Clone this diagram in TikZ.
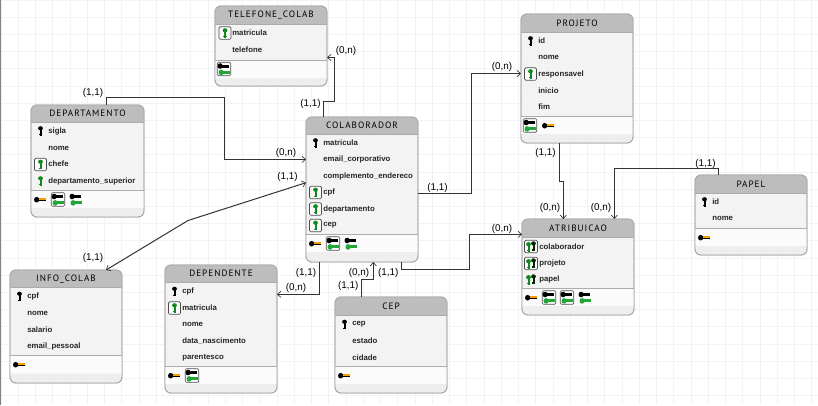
\documentclass[tikz,border=0pt]{standalone}
\usepackage{fontspec}
\setmainfont{Liberation Sans}
\newfontfamily\titlefont[LetterSpace=11]{PT Sans}
\usetikzlibrary{calc,arrows.meta}
\definecolor{gridc}{HTML}{F1F3F8}
\definecolor{hdrc}{HTML}{BDBDBD}
\definecolor{bodyc}{HTML}{F3F3F3}
\definecolor{footc}{HTML}{FBFBFB}
\definecolor{stripc}{HTML}{EEEEEE}
\definecolor{edgec}{HTML}{ABABAB}
\definecolor{linec}{HTML}{333333}
\definecolor{keygreen}{HTML}{0F8A20}
\definecolor{lightgreen}{HTML}{22A63A}
\definecolor{keyorange}{HTML}{F5A000}
\tikzset{
  entbox/.style={draw=edgec,line width=0.7pt,rounded corners=4.5pt,fill=bodyc,inner sep=0pt,outer sep=0pt},
  enttitle/.style={inner sep=0pt,text=black,font=\titlefont\fontsize{6.9pt}{8pt}\selectfont},
  attrtext/.style={inner sep=0pt,anchor=west,text=black!85,font=\bfseries\fontsize{5.85pt}{7pt}\selectfont},
  card/.style={inner sep=0pt,text=black,font=\fontsize{7.4pt}{9pt}\selectfont},
  conn/.style={draw=linec,line width=0.75pt},
  tip/.style={-{Straight Barb[length=2.6pt,width=4.6pt,line width=0.5pt]}},
  tips/.style={{Straight Barb[length=2.6pt,width=4.6pt,line width=0.5pt]}-{Straight Barb[length=2.6pt,width=4.6pt,line width=0.5pt]}},
  iconframe/.style={draw=black!70,line width=0.5pt,rounded corners=1pt,fill=white}
}
% ---- key glyphs, coordinates in pixels around the icon centre
\newcommand{\vkey}[3]{\fill[#3] (#1,-2.7+#2) ellipse (2.4 and 2.1);
  \fill[#3] (#1-1,-3+#2) rectangle (#1+1,4.8+#2);
  \fill[#3] (#1-1.6,3.2+#2) rectangle (#1+1.6,4.4+#2);}
\newcommand{\hkey}[3]{\fill[#3] (-3.4+#1,#2) ellipse (2.6 and 2.8);
  \fill[#3] (-3.4+#1,#2-1.5) rectangle (5.8+#1,#2+1.5);}
\newcommand{\icp}[2]{\begin{scope}[shift={(#1,#2)}]\vkey{0}{0}{black}\end{scope}}
\newcommand{\icf}[2]{\begin{scope}[shift={(#1,#2)}]\vkey{0}{0}{keygreen}\end{scope}}
\newcommand{\icF}[2]{\begin{scope}[shift={(#1,#2)}]
  \draw[iconframe,fill=footc] (-6,-6.3) rectangle (6,6.3);\vkey{0}{0}{keygreen}\end{scope}}
\newcommand{\dkey}{\vkey{-2.5}{0.4}{keygreen}\vkey{2.5}{-0.4}{black!85!green}}
\newcommand{\icd}[2]{\begin{scope}[shift={(#1,#2)}]\dkey\end{scope}}
\newcommand{\icD}[2]{\begin{scope}[shift={(#1,#2)}]
  \draw[iconframe,fill=footc] (-6.5,-6.3) rectangle (6.5,6.3);\dkey\end{scope}}
% ---- footer icons
\newcommand{\ftpk}[2]{\begin{scope}[shift={(#1,#2)}]\hkey{0}{0.2}{black}
  \fill[keyorange] (-1,-1.6) rectangle (5.8,0.1);\end{scope}}
\newcommand{\ftfk}[2]{\begin{scope}[shift={(#1,#2)}]\hkey{-0.5}{-3}{black}\hkey{0.5}{3.4}{lightgreen}\end{scope}}
\newcommand{\ftfr}[2]{\begin{scope}[shift={(#1,#2)}]
  \draw[iconframe] (-6.8,-6.8) rectangle (6.8,6.8);\hkey{-0.5}{-3}{black}\hkey{0.5}{3.4}{lightgreen}\end{scope}}
\newcommand{\ftrow}[3]{\foreach \kind [count=\n from 0] in {#3}{%
  \csname ft\kind\endcsname{#1+9+18*\n}{#2}}}
% ---- entity: name, x1, y1, x2, y2, header bottom, footer top, title
\newcommand{\entity}[8]{%
  \node[entbox,minimum width={(#4-#2)*0.75pt},minimum height={(#5-#3)*0.75pt}] (#1) at ({(#2+#4)/2},{(#3+#5)/2}) {};
  \fill[hdrc] (#2,#6) {[rounded corners=4.5pt] -- (#2,#3) -- (#4,#3)} -- (#4,#6) -- cycle;
  \fill[footc] (#2+0.4,#7) rectangle (#4-0.4,#7+18);
  \fill[stripc] (#2+0.4,#7+18) {[rounded corners=4.5pt] -- (#2+0.4,#5-0.4) -- (#4-0.4,#5-0.4)} -- (#4-0.4,#7+18) -- cycle;
  \draw[edgec,line width=0.7pt] (#2,#6) -- (#4,#6);
  \draw[edgec,line width=0.7pt] (#2,#7) -- (#4,#7);
  \draw[edgec,line width=0.7pt,rounded corners=4.5pt] (#2,#3) rectangle (#4,#5);
  \node[enttitle] (#1-title) at ({(#2+#4)/2},{(#3+#6)/2}) {#8};
}
% ---- attribute: id, entity left x, y, text
\newcommand{\attr}[4]{\node[attrtext] (#1) at (#2+17,#3) {#4};}
\begin{document}
\begin{tikzpicture}[x=0.75pt,y=-0.75pt]
\useasboundingbox (0,0) rectangle (818,405);
\fill[white] (0,0) rectangle (818,405);
\foreach \gx in {0,...,47} \draw[gridc,line width=0.5pt] ({1+17.25*\gx},0) -- ({1+17.25*\gx},405);
\foreach \gy in {0,...,23} \draw[gridc,line width=0.5pt] (0,{17.2*\gy}) -- (818,{17.2*\gy});
\fill[black!50] (0,0) rectangle (1.2,405);

% TELEFONE_COLAB
\entity{tel}{215}{6}{327}{86}{24}{60}{TELEFONE\_COLAB}
\icF{225}{33}
\attr{tel-a}{215}{33}{matricula}
\attr{tel-b}{215}{50}{telefone}
\ftrow{215}{69}{fr}

% DEPARTAMENTO
\entity{dep}{31}{105}{144}{217}{122}{190}{DEPARTAMENTO}
\icp{40.5}{131}\icF{40.5}{164.5}\icf{40.5}{181}
\attr{dep-a}{31}{131}{sigla}
\attr{dep-b}{31}{148}{nome}
\attr{dep-c}{31}{164}{chefe}
\attr{dep-d}{31}{181}{departamento\_superior}
\ftrow{31}{199.5}{pk,fr,fk}

% COLABORADOR
\entity{col}{306}{117}{418}{262}{134.5}{234}{COLABORADOR}
\icp{315.5}{143}\icF{315.5}{192.5}\icF{315.5}{209}\icF{315.5}{225.5}
\attr{col-a}{306}{143}{matricula}
\attr{col-b}{306}{159.5}{email\_corporativo}
\attr{col-c}{306}{176}{complemento\_endereco}
\attr{col-d}{306}{192.5}{cpf}
\attr{col-e}{306}{209}{departamento}
\attr{col-f}{306}{225.5}{cep}
\ftrow{306}{243.5}{pk,fr,fk}

% PROJETO
\entity{pro}{521}{14}{633}{143}{32}{116}{PROJETO}
\icp{530.5}{41}\icF{530.5}{74}
\attr{pro-a}{521}{41}{id}
\attr{pro-b}{521}{57.5}{nome}
\attr{pro-c}{521}{74}{responsavel}
\attr{pro-d}{521}{90.5}{inicio}
\attr{pro-e}{521}{107}{fim}
\ftrow{521}{125.5}{fr,pk}

% ATRIBUICAO
\entity{atr}{522}{219}{634}{315}{237}{288}{ATRIBUICAO}
\icD{531}{246.5}\icD{531}{263.5}\icd{531}{279.5}
\attr{atr-a}{522}{246.5}{colaborador}
\attr{atr-b}{522}{263.5}{projeto}
\attr{atr-c}{522}{279.5}{papel}
\ftrow{522}{297.5}{pk,fr,fr,fk}

% PAPEL
\entity{pap}{695}{175}{807}{255}{193}{228}{PAPEL}
\icp{704.5}{202}
\attr{pap-a}{695}{202}{id}
\attr{pap-b}{695}{218.5}{nome}
\ftrow{695}{237.5}{pk}

% INFO_COLAB
\entity{inf}{10}{270}{122}{383}{287.5}{355.5}{INFO\_COLAB}
\icp{19.5}{296.5}
\attr{inf-a}{10}{296.5}{cpf}
\attr{inf-b}{10}{313}{nome}
\attr{inf-c}{10}{329.5}{salario}
\attr{inf-d}{10}{346}{email\_pessoal}
\ftrow{10}{364.5}{pk}

% DEPENDENTE
\entity{dpd}{165}{265}{277}{393}{282.5}{366}{DEPENDENTE}
\icp{174.5}{291.5}\icF{174.5}{308}
\attr{dpd-a}{165}{291.5}{cpf}
\attr{dpd-b}{165}{308}{matricula}
\attr{dpd-c}{165}{324.5}{nome}
\attr{dpd-d}{165}{341}{data\_nascimento}
\attr{dpd-e}{165}{357.5}{parentesco}
\ftrow{165}{375.5}{pk,fr}

% CEP
\entity{cep}{335}{297}{447}{393}{315}{366}{CEP}
\icp{344.5}{324.5}
\attr{cep-a}{335}{324.5}{cep}
\attr{cep-b}{335}{341}{estado}
\attr{cep-c}{335}{357.5}{cidade}
\ftrow{335}{375.5}{pk}

% connectors
\draw[conn,tip] ($(dep.north west)+(75.7,0)$) |- (224.3,97.3) |- ($(col.north west)+(0,42.3)$);
\draw[conn,tip] ($(col.north west)+(17.3,0)$) |- (334.3,101.5) |- ($(tel.north east)+(0,51.5)$);
\draw[conn,tip] ($(col.north east)+(0,76.7)$) -| (471.5,73.5) -- ($(pro.north west)+(0,59.5)$);
\draw[conn,tip] ($(pro.south west)+(38.5,0)$) |- (563.3,181.7) -- ($(atr.north west)+(41.3,0)$);
\draw[conn,tip] ($(pap.north west)+(23.3,0)$) |- (614.3,168.3) -- ($(atr.north west)+(92.3,0)$);
\draw[conn,tip] ($(col.south west)+(95.7,0)$) |- (469.3,269) |- ($(atr.north west)+(0,15.3)$);
\draw[conn,tip] ($(cep.north west)+(26.3,0)$) |- (373.3,279.3) -- ($(col.south west)+(67.3,0)$);
\draw[conn,tip] ($(col.south west)+(13.7,0)$) |- ($(dpd.north east)+(0,29.3)$);
\draw[conn,tips] ($(col.north west)+(0,65.7)$) -- (188,220.5) -- ($(inf.north west)+(96,0)$);

% cardinalities
\node[card] (c1) at (93,93) {(1,1)};
\node[card] (c2) at (286,153) {(0,n)};
\node[card] (c3) at (287.5,177) {(1,1)};
\node[card] (c4) at (346,51) {(0,n)};
\node[card] (c5) at (310.5,104) {(1,1)};
\node[card] (c6) at (437.5,188) {(1,1)};
\node[card] (c7) at (502,67) {(0,n)};
\node[card] (c8) at (545.5,153) {(1,1)};
\node[card] (c9) at (550,208) {(0,n)};
\node[card] (c10) at (601,208) {(0,n)};
\node[card] (c11) at (705.5,164) {(1,1)};
\node[card] (c12) at (502,229) {(0,n)};
\node[card] (c13) at (93,258) {(1,1)};
\node[card] (c14) at (306,272.7) {(1,1)};
\node[card] (c15) at (296,287.7) {(0,n)};
\node[card] (c16) at (359,272.7) {(0,n)};
\node[card] (c17) at (388.3,272.7) {(1,1)};
\node[card] (c18) at (348.3,286) {(1,1)};
\end{tikzpicture}
\end{document}
